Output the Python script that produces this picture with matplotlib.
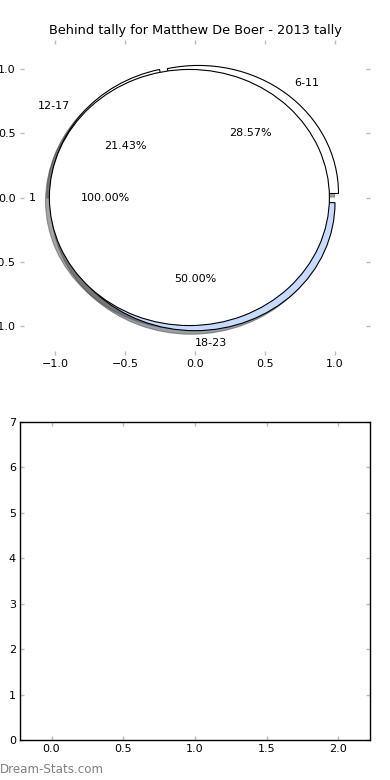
import matplotlib
matplotlib.use("Agg")
import matplotlib.pyplot as plt

title = "Behind tally for Matthew De Boer - 2013 tally"
outer_labels = ["6-11", "12-17", "18-23"]
outer_values = [4, 3, 7]
outer_colors = ["#ffffff", "#ffffff", "#c6dbff"]
inner_labels = ["1"]
inner_values = [1]
inner_colors = ["#ffffff"]

pie_ticks = [-1.0, -0.5, 0.0, 0.5, 1.0]
bar_xticks = [0.0, 0.5, 1.0, 1.5, 2.0]
bar_yticks = [0, 1, 2, 3, 4, 5, 6, 7]

fig = plt.figure(figsize=(3.9, 7.8), dpi=100)

ax1 = fig.add_axes([20 / 390, 1 - 355 / 780, 350 / 390, 315 / 780])
wp = dict(edgecolor="black", linewidth=0.8)
w1, t1, a1 = ax1.pie(outer_values, labels=outer_labels, colors=outer_colors,
                     explode=[0.04] * len(outer_values), startangle=0,
                     autopct="%.2f%%", shadow=True, wedgeprops=wp,
                     labeldistance=1.1, pctdistance=0.6, frame=True,
                     textprops=dict(fontsize=8))
w2, t2, a2 = ax1.pie(inner_values, labels=inner_labels, colors=inner_colors,
                     explode=[0.04] * len(inner_values), startangle=0,
                     autopct="%.2f%%", shadow=True, wedgeprops=wp,
                     labeldistance=1.1, pctdistance=0.6, frame=True,
                     textprops=dict(fontsize=8))
t1[2].set_ha("left")
ax1.set_aspect("auto")
ax1.set_xlim(-1.25, 1.25)
ax1.set_ylim(-1.23, 1.23)
ax1.set_xticks(pie_ticks)
ax1.set_yticks(pie_ticks)
for s in ax1.spines.values():
    s.set_visible(False)
ax1.tick_params(direction="in", length=3, width=1, color="#bbbbbb",
                labelsize=8, top=True, right=True, pad=3)
ax1.set_title(title, fontsize=9.3, pad=4)

ax2 = fig.add_axes([20 / 390, 40 / 780, 350 / 390, 318 / 780])
ax2.set_xlim(-0.22, 2.22)
ax2.set_ylim(0, 7)
ax2.set_xticks(bar_xticks)
ax2.set_yticks(bar_yticks)
ax2.tick_params(direction="in", length=3, width=1, color="#bbbbbb",
                labelsize=8, top=True, right=True, pad=3)
for s in ax2.spines.values():
    s.set_linewidth(1)

fig.text(0.0, 4 / 780, "Dream-Stats.com", color="#808080", fontsize=8.6,
         ha="left", va="bottom")

fig.savefig("out.png", dpi=100)
